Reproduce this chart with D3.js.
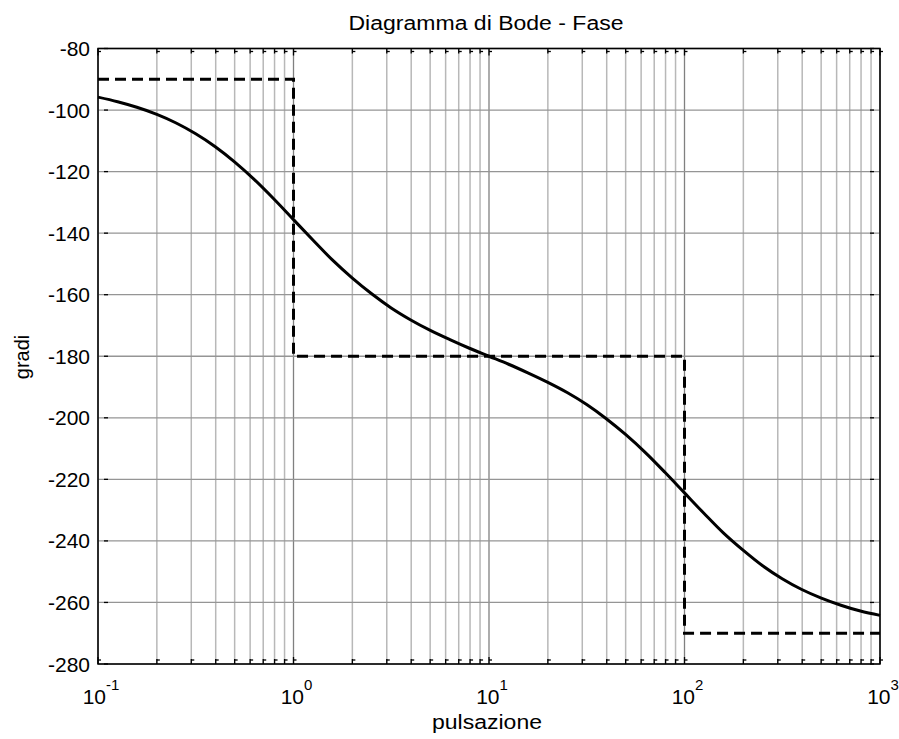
<!DOCTYPE html>
<html><head><meta charset="utf-8">
<script src="https://cdn.jsdelivr.net/npm/d3@7"></script>
<style>body{margin:0;background:#fff}svg{display:block}text{font-family:"Liberation Sans",Arial,sans-serif;fill:#000}</style>
</head><body><svg id="c" width="899" height="739"></svg>
<script>
const omega = [0.1,0.126,0.158,0.2,0.251,0.316,0.398,0.501,0.631,0.794,
               1,1.26,1.58,2,2.51,3.16,3.98,5.01,6.31,7.94,
               10,12.6,15.8,20,25.1,31.6,39.8,50.1,63.1,79.4,
               100,126,158,200,251,316,398,501,631,794,1000];
const phase = [-95.8,-97.3,-99.1,-101.4,-104.2,-107.7,-111.9,-116.9,-122.6,-128.9,
               -135.6,-142.3,-148.7,-154.6,-159.7,-164.3,-168.2,-171.6,-174.6,-177.4,
               -180.0,-182.6,-185.4,-188.5,-191.8,-195.7,-200.3,-205.5,-211.3,-217.7,
               -224.4,-231.1,-237.4,-243.1,-248.1,-252.3,-255.8,-258.6,-260.9,-262.8,-264.2];
const asymW = [0.1,1,1,100,100,1000];
const asymP = [-90,-90,-180,-180,-270,-270];
const yTicks = [-80,-100,-120,-140,-160,-180,-200,-220,-240,-260,-280];
const xDecades = [-1,0,1,2,3];
const titleText = "Diagramma di Bode - Fase";
const xLabel = "pulsazione";
const yLabel = "gradi";

const svg = d3.select("#c");
const L=98,R=880,T=48.5,B=664;
const x = d3.scaleLog().domain([0.1,1000]).range([L,R]);
const y = d3.scaleLinear().domain([-280,-80]).range([B,T]);

const minorX = [];
xDecades.slice(0,-1).forEach(d=>{for(let k=2;k<=9;k++) minorX.push(k*Math.pow(10,d));});
const majorX = xDecades.map(d=>Math.pow(10,d));

const g = svg.append("g");
g.selectAll(".gm").data(minorX).enter().append("line")
 .attr("x1",d=>x(d)).attr("x2",d=>x(d)).attr("y1",T).attr("y2",B)
 .attr("stroke","#b8b8b8").attr("stroke-width",1.5);
g.selectAll(".gM").data(majorX).enter().append("line")
 .attr("x1",d=>x(d)).attr("x2",d=>x(d)).attr("y1",T).attr("y2",B)
 .attr("stroke","#808080").attr("stroke-width",1.3);
g.selectAll(".gy").data(yTicks).enter().append("line")
 .attr("x1",L).attr("x2",R).attr("y1",d=>y(d)).attr("y2",d=>y(d))
 .attr("stroke","#959595").attr("stroke-width",1.3);

const tk = svg.append("g").attr("stroke","#000").attr("stroke-width",1.3);
yTicks.forEach(v=>{
  tk.append("line").attr("x1",L+6).attr("x2",L+10).attr("y1",y(v)).attr("y2",y(v));
  tk.append("line").attr("x1",R-6).attr("x2",R-10).attr("y1",y(v)).attr("y2",y(v));
});
minorX.concat(majorX).forEach(v=>{
  const len = majorX.includes(v)?7:5;
  tk.append("line").attr("x1",x(v)).attr("x2",x(v)).attr("y1",T).attr("y2",T+len);
  tk.append("line").attr("x1",x(v)).attr("x2",x(v)+3).attr("y1",T+3).attr("y2",T+3);
  tk.append("line").attr("x1",x(v)).attr("x2",x(v)).attr("y1",B).attr("y2",B-len);
  tk.append("line").attr("x1",x(v)).attr("x2",x(v)+3).attr("y1",B-4).attr("y2",B-4);
});

svg.append("rect").attr("x",L).attr("y",T).attr("width",R-L).attr("height",B-T)
 .attr("fill","none").attr("stroke","#000").attr("stroke-width",1.5);

const asym = asymW.map((w,i)=>[w,asymP[i]]);
svg.append("path").datum(asym)
 .attr("d",d3.line().x(d=>x(d[0])).y(d=>y(d[1])))
 .attr("fill","none").attr("stroke","#000").attr("stroke-width",3)
 .attr("stroke-dasharray","11,6");

const pts = omega.map((w,i)=>[w,phase[i]]);
svg.append("path").datum(pts)
 .attr("d",d3.line().curve(d3.curveMonotoneX).x(d=>x(d[0])).y(d=>y(d[1])))
 .attr("fill","none").attr("stroke","#000").attr("stroke-width",3)
 .attr("stroke-linejoin","round");

svg.selectAll(".yl").data(yTicks).enter().append("text")
 .attr("x",L-8).attr("y",d=>y(d)).attr("dy","0.36em").attr("text-anchor","end")
 .attr("font-size",21).text(d=>d);

xDecades.forEach(d=>{
  const t = svg.append("text").attr("x",x(Math.pow(10,d))+3).attr("y",704).attr("text-anchor","middle").attr("font-size",21);
  t.append("tspan").text("10");
  t.append("tspan").attr("font-size",15).attr("dy",-14).text(d);
});

svg.append("text").attr("x",486).attr("y",30).attr("text-anchor","middle").attr("font-size",20)
 .attr("textLength",275).attr("lengthAdjust","spacingAndGlyphs").text(titleText);
svg.append("text").attr("x",487).attr("y",729).attr("text-anchor","middle").attr("font-size",20)
 .attr("textLength",110).attr("lengthAdjust","spacingAndGlyphs").text(xLabel);
svg.append("text").attr("transform","translate(29,357) rotate(-90)").attr("text-anchor","middle").attr("font-size",20)
 .text(yLabel);
</script></body></html>
